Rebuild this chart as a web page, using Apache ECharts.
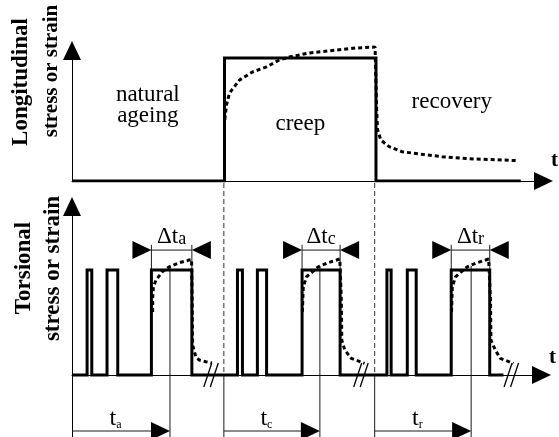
<!DOCTYPE html>
<html>
<head>
<meta charset="utf-8">
<script src="https://cdn.jsdelivr.net/npm/echarts@6/dist/echarts.min.js"></script>
<style>
  html, body { margin: 0; padding: 0; background: #fff; }
  #chart { width: 559px; height: 437px; }
</style>
</head>
<body>
<div id="chart"></div>
<script>
// ---- data (time in test units, one phase ≈ 100 units; stress level 1 = load applied) ----
const phaseStarts = [0, 100.6, 200.5];
const phaseNames = ['natural\nageing', 'creep', 'recovery'];
const phaseSubscripts = ['a', 'c', 'r'];

// longitudinal load (solid step) and the strain it produces (dotted)
const longLoad = [[0, 0], [100.6, 0], [100.6, 1], [200.5, 1], [200.5, 0], [296, 0]];
const longStrain = [
  [100.8, 0.5], [101.9, 0.618], [103.9, 0.715], [110.5, 0.821], [119.0, 0.886],
  [128.2, 0.927], [136.8, 0.984], [143.4, 1.008], [156.5, 1.041], [174.3, 1.065],
  [187.4, 1.081], [199.9, 1.089], [200.7, 1.08], [200.9, 0.6], [201.5, 0.42],
  [203.7, 0.333], [209.2, 0.279], [217.7, 0.238], [228.9, 0.220], [244.0, 0.198],
  [261.8, 0.181], [283.5, 0.171], [294.6, 0.165]
];

// torsional pulses [start, end] in each phase; the last one is the measuring pulse
const pulsesAgeing = [[10.0, 13.1], [23.2, 30.3], [52.6, 79.4]];
const pulsesCreep = [[109.6, 112.9], [122.8, 128.9], [152.4, 177.6]];
const pulsesRecovery = [[208.6, 211.4], [222.1, 228.0], [251.2, 276.7]];
const torsionEnd = 285.8;

// torsional strain during each measuring pulse
const strainAgeing = [
  [53.4, 0.60], [53.5, 0.746], [53.9, 0.841], [55.7, 0.905], [59.8, 0.984],
  [64.5, 1.031], [71.0, 1.070], [77.6, 1.095], [79.2, 1.10], [79.6, 0.714],
  [79.9, 0.286], [82.0, 0.174], [84.2, 0.143], [88.6, 0.127], [92.7, 0.114]
];
const strainCreep = [
  [152.6, 0.60], [153.2, 0.841], [155.4, 0.936], [163.1, 1.031], [169.7, 1.070],
  [177.4, 1.105], [178.0, 1.10], [178.4, 0.714], [178.7, 0.333], [180.7, 0.238],
  [185.0, 0.159], [193.8, 0.111]
];
const strainRecovery = [
  [251.4, 0.60], [251.9, 0.841], [254.1, 0.936], [261.8, 1.031], [268.3, 1.070],
  [276.0, 1.105], [276.9, 1.10], [277.2, 0.714], [277.5, 0.333], [280.4, 0.238],
  [283.7, 0.159], [292.4, 0.111]
];

// instants at which the phases are evaluated, and where the time axis is broken
const measureTimes = [64.9, 164.2, 264.4];
const breakTimes = [92.1, 191.4, 291.0];

// ---- layout ----
const SERIF = '"Liberation Serif", "Times New Roman", serif';
const TIME_MAX = 311;
const TOP_BASE_Y = 181;          // pixel row of the upper time axis
const BRACKET_LEVEL = 1.19;      // height of the Δt dimension lines
const EXT_LEVEL = 1.24;
const MEASURE_TOP = 1.04;
const ARROW_LEVEL = -0.533;      // height of the t_a / t_c / t_r arrows
const PHASE_LABEL_LEVELS = [0.614, 0.466, 0.642];

const measuringPulses = [pulsesAgeing, pulsesCreep, pulsesRecovery].map(g => g[g.length - 1]);

function pulseTrain(groups, end) {
  const pts = [[0, 0]];
  groups.forEach(g => g.forEach(([s, e]) => { pts.push([s, 0], [s, 1], [e, 1], [e, 0]); }));
  pts.push([end, 0]);
  return pts;
}

function tri(tipX, tipY, dir, len, half) {
  // filled triangle pointing in direction dir (+1 right, -1 left)
  return { type: 'polygon', shape: { points: [[tipX, tipY], [tipX - dir * len, tipY - half], [tipX - dir * len, tipY + half]] },
           style: { fill: '#000' } };
}

function subText(main, sub, x, y, mainSize, subSize, subLH) {
  return {
    type: 'text',
    style: {
      text: '{m|' + main + '}{s|' + sub + '}',
      x: x, y: y, align: 'center', verticalAlign: 'bottom',
      font: mainSize + 'px ' + SERIF,
      rich: {
        m: { font: mainSize + 'px ' + SERIF, fontFamily: SERIF, fontSize: mainSize, lineHeight: mainSize, verticalAlign: 'bottom', fill: '#000' },
        s: { font: subSize + 'px ' + SERIF, fontFamily: SERIF, fontSize: subSize, lineHeight: subLH, verticalAlign: 'bottom', fill: '#000' }
      }
    }
  };
}

function renderPhaseMarks(params, api) {
  const i = params.dataIndex;
  const t0 = api.value(0), tm = api.value(1), tb = api.value(2);
  const ps = api.value(3), pe = api.value(4);
  const cs = params.coordSys;
  const yBottom = cs.y + cs.height;
  const [x0, y0] = api.coord([t0, 0]);
  const xm = api.coord([tm, 0])[0];
  const ya = api.coord([t0, ARROW_LEVEL])[1];
  const xs = api.coord([ps, 0])[0], xe = api.coord([pe, 0])[0];
  const yb = api.coord([ps, BRACKET_LEVEL])[1];
  const yExt = api.coord([ps, EXT_LEVEL])[1];
  const yTop = api.coord([ps, 1])[1];
  const yMeas = api.coord([tm, MEASURE_TOP])[1];
  const xb = api.coord([tb, 0])[0];
  const thin = { stroke: '#1a1a1a', lineWidth: 1 };
  const c = [];

  if (i > 0) {
    c.push({ type: 'line', shape: { x1: x0, y1: TOP_BASE_Y + 2, x2: x0, y2: y0 },
             style: { stroke: '#333', lineWidth: 1, lineDash: [5, 3] } });
    c.push({ type: 'line', shape: { x1: x0, y1: y0, x2: x0, y2: yBottom }, style: thin });
  }
  // measuring instant and elapsed-time arrow
  c.push({ type: 'line', shape: { x1: xm, y1: yMeas, x2: xm, y2: yBottom }, style: thin });
  c.push({ type: 'line', shape: { x1: x0, y1: ya, x2: xm - 10, y2: ya }, style: thin });
  c.push(tri(xm, ya, 1, 19, 9));
  c.push(subText('t', phaseSubscripts[i], (x0 + xm) / 2 - 5.5, ya, 24, 12, 8));

  // Δt dimension of the measuring pulse
  c.push({ type: 'line', shape: { x1: xs, y1: yExt, x2: xs, y2: yTop }, style: thin });
  c.push({ type: 'line', shape: { x1: xe, y1: yExt, x2: xe, y2: yTop }, style: thin });
  c.push({ type: 'line', shape: { x1: xs, y1: yb, x2: xe, y2: yb }, style: thin });
  c.push(tri(xs, yb, 1, 19, 9));
  c.push(tri(xe, yb, -1, 19, 9));
  c.push(subText('\u0394t', phaseSubscripts[i], (xs + xe) / 2, yb - 2, 23, 18, 10));

  // axis break
  [-3.25, 3.25].forEach(d => {
    c.push({ type: 'line', shape: { x1: xb + d - 4, y1: y0 + 12, x2: xb + d + 4, y2: y0 - 12 },
             style: { stroke: '#000', lineWidth: 1.3 } });
  });
  return { type: 'group', children: c };
}

function renderPhaseNames(params, api) {
  const i = params.dataIndex;
  const [x, y] = api.coord([api.value(0) + 50, PHASE_LABEL_LEVELS[i]]);
  return {
    type: 'text',
    style: { text: phaseNames[i], x: x, y: y, align: 'center', verticalAlign: 'middle',
             font: '23px ' + SERIF, lineHeight: 21, fill: '#000' }
  };
}

const axisLineStyle = { color: '#000', width: 1 };
const hidden = { axisTick: { show: false }, axisLabel: { show: false }, splitLine: { show: false } };
function timeAxis(gridIndex, padBottom) {
  return Object.assign({
    type: 'value', gridIndex: gridIndex, min: 0, max: TIME_MAX,
    axisLine: { onZero: true, symbol: ['none', 'triangle'], symbolSize: [18, 19], lineStyle: axisLineStyle },
    name: 't', nameLocation: 'end', nameGap: 11,
    nameTextStyle: { fontFamily: SERIF, fontWeight: 'bold', fontSize: 21, color: '#000',
                     align: 'center', verticalAlign: 'bottom', padding: [0, 0, padBottom, 0] }
  }, hidden);
}
function levelAxis(gridIndex, min, max) {
  return Object.assign({
    type: 'value', gridIndex: gridIndex, min: min, max: max,
    axisLine: { show: true, symbol: ['none', 'triangle'], symbolSize: [18, 19], lineStyle: axisLineStyle }
  }, hidden);
}

const solid = { color: '#000', width: 3, join: 'miter' };
const dotted = { color: '#000', width: 3, type: [4, 3] };

const chart = echarts.init(document.getElementById('chart'));
chart.setOption({
  animation: false,
  backgroundColor: '#fff',
  grid: [
    { left: 72, right: 14, top: 50.6, height: 130.4 },
    { left: 72, right: 14, top: 206.5, bottom: 0 }
  ],
  xAxis: [timeAxis(0, 10), timeAxis(1, 7)],
  yAxis: [levelAxis(0, 0, 1.06), levelAxis(1, -0.59, 1.605)],
  graphic: [
    { type: 'text', x: 21, y: 82, rotation: Math.PI / 2,
      style: { text: 'Longitudinal', font: 'bold 23px ' + SERIF, align: 'center', verticalAlign: 'middle', fill: '#000' } },
    { type: 'text', x: 51.5, y: 71, rotation: Math.PI / 2,
      style: { text: 'stress or strain', font: 'bold 21px ' + SERIF, align: 'center', verticalAlign: 'middle', fill: '#000' } },
    { type: 'text', x: 24, y: 268, rotation: Math.PI / 2,
      style: { text: 'Torsional', font: 'bold 23px ' + SERIF, align: 'center', verticalAlign: 'middle', fill: '#000' } },
    { type: 'text', x: 53, y: 268.5, rotation: Math.PI / 2,
      style: { text: 'stress or strain', font: 'bold 23px ' + SERIF, align: 'center', verticalAlign: 'middle', fill: '#000' } }
  ],
  series: [
    { type: 'line', xAxisIndex: 0, yAxisIndex: 0, data: longLoad, showSymbol: false, lineStyle: solid, z: 3 },
    { type: 'line', xAxisIndex: 0, yAxisIndex: 0, data: longStrain, showSymbol: false, clip: false, lineStyle: dotted, z: 4 },
    { type: 'custom', xAxisIndex: 0, yAxisIndex: 0, data: phaseStarts.map(s => [s, 0.5]), renderItem: renderPhaseNames, z: 5 },
    { type: 'line', xAxisIndex: 1, yAxisIndex: 1, data: pulseTrain([pulsesAgeing, pulsesCreep, pulsesRecovery], torsionEnd),
      showSymbol: false, lineStyle: solid, z: 3 },
    { type: 'line', xAxisIndex: 1, yAxisIndex: 1, data: strainAgeing, showSymbol: false, clip: false, lineStyle: dotted, z: 4 },
    { type: 'line', xAxisIndex: 1, yAxisIndex: 1, data: strainCreep, showSymbol: false, clip: false, lineStyle: dotted, z: 4 },
    { type: 'line', xAxisIndex: 1, yAxisIndex: 1, data: strainRecovery, showSymbol: false, clip: false, lineStyle: dotted, z: 4 },
    { type: 'custom', xAxisIndex: 1, yAxisIndex: 1,
      data: phaseStarts.map((s, i) => [s, measureTimes[i], breakTimes[i], measuringPulses[i][0], measuringPulses[i][1]]),
      renderItem: renderPhaseMarks, z: 2 }
  ]
});
</script>
</body>
</html>
